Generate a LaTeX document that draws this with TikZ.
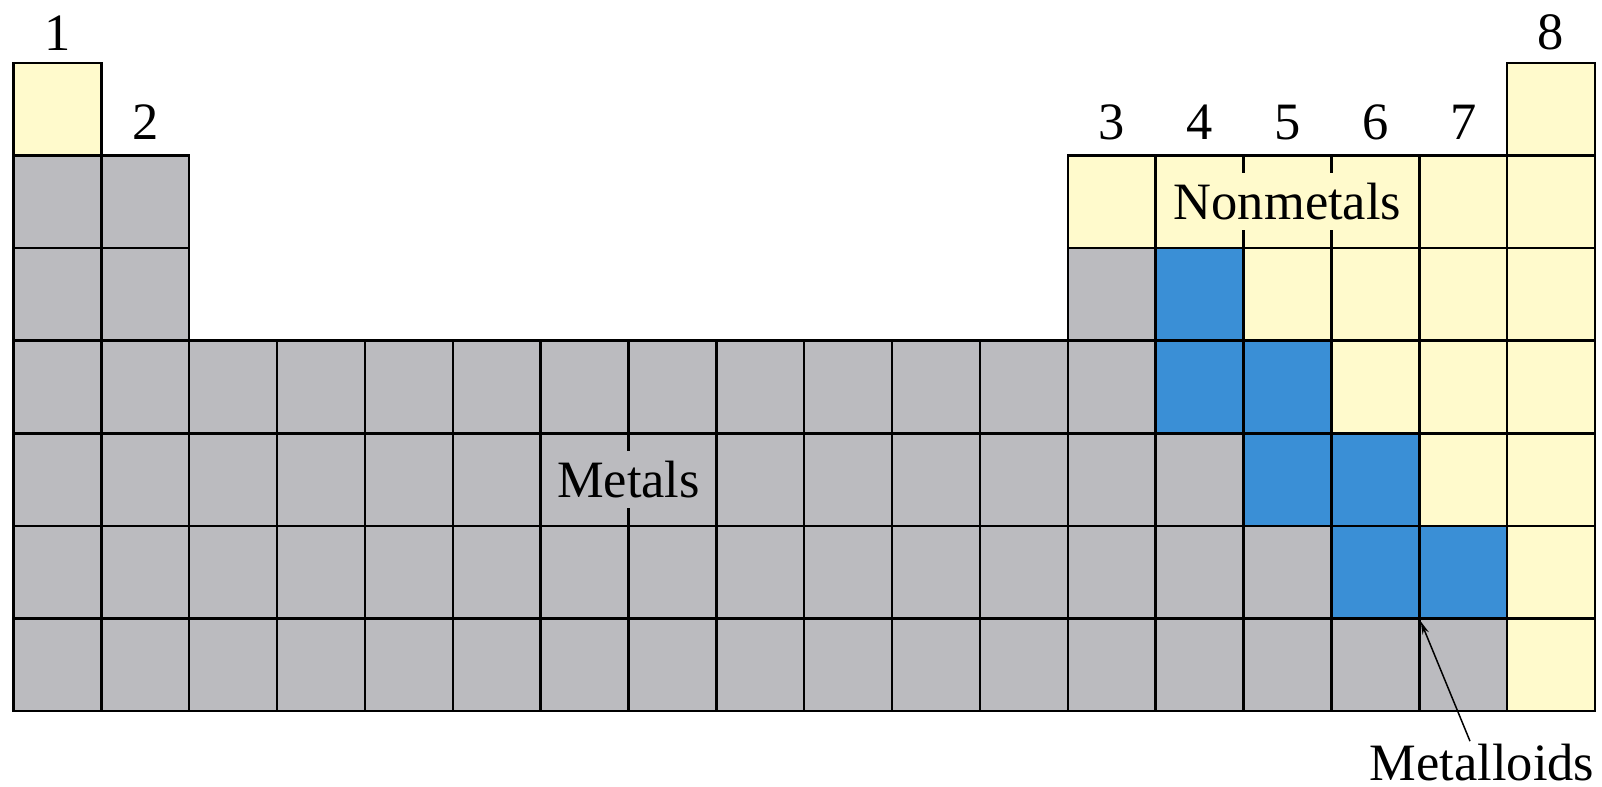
\documentclass[tikz,border=0pt]{standalone}
\usepackage{fontspec}
\setmainfont{Liberation Serif}
\usetikzlibrary{arrows.meta}

\definecolor{ylw}{RGB}{255,250,204}
\definecolor{gry}{RGB}{187,187,191}
\definecolor{blu}{RGB}{58,143,214}

\tikzset{
  cell/.style={draw=black, line width=1.25pt, rectangle, inner sep=0pt, outer sep=0pt,
               minimum width=43.93pt, minimum height=46.285pt},
  lbl/.style={inner sep=1pt, font=\fontsize{26.25}{30}\selectfont},
  tag/.style={inner xsep=4pt, inner ysep=5pt, font=\fontsize{26.25}{30}\selectfont},
  pointer/.style={line width=0.75pt, -{Stealth[length=6.5pt,width=3.4pt]}}
}

\begin{document}
\begin{tikzpicture}[x=0.5pt, y=-0.5pt]
  \useasboundingbox (0,0) rectangle (1602,787);

  % cells: row / first column / last column / fill colour
  \foreach \r/\a/\b/\col in {
      1/1/1/ylw, 1/18/18/ylw,
      2/1/2/gry, 2/13/18/ylw,
      3/1/2/gry, 3/13/13/gry, 3/14/14/blu, 3/15/18/ylw,
      4/1/13/gry, 4/14/15/blu, 4/16/18/ylw,
      5/1/14/gry, 5/15/16/blu, 5/17/18/ylw,
      6/1/15/gry, 6/16/17/blu, 6/18/18/ylw,
      7/1/17/gry, 7/18/18/ylw} {
    \foreach \c in {\a,...,\b} {
      \node[cell, fill=\col] (c\r-\c) at ({13.5+87.86*(\c-0.5)}, {63+92.57*(\r-0.5)}) {};
    }
  }

  % group numbers
  \node[lbl, anchor=base] (g1) at ([yshift=6.5pt]c1-1.north) {1};
  \node[lbl, anchor=base] (g2) at ([yshift=8pt]c2-2.north) {2};
  \node[lbl, anchor=base] (g3) at ([yshift=7.8pt]c2-13.north) {3};
  \node[lbl, anchor=base] (g4) at ([yshift=7.8pt]c2-14.north) {4};
  \node[lbl, anchor=base] (g5) at ([yshift=7.8pt]c2-15.north) {5};
  \node[lbl, anchor=base] (g6) at ([yshift=7.8pt]c2-16.north) {6};
  \node[lbl, anchor=base] (g7) at ([yshift=7.8pt]c2-17.north) {7};
  \node[lbl, anchor=base] (g8) at ([yshift=7pt]c1-18.north) {8};

  % region names
  \node[tag, fill=gry] (metals) at (c5-7.east) {Metals};
  \node[tag, fill=ylw] (nonmetals) at (c2-15) {Nonmetals};
  \node[lbl, anchor=base] (metalloids) at (1482,780) {Metalloids};

  \coordinate (mtip) at ([xshift=0.75pt, yshift=-1.5pt]c6-16.south east);
  \draw[pointer] ([xshift=-6pt]metalloids.north) -- (mtip);
\end{tikzpicture}
\end{document}
